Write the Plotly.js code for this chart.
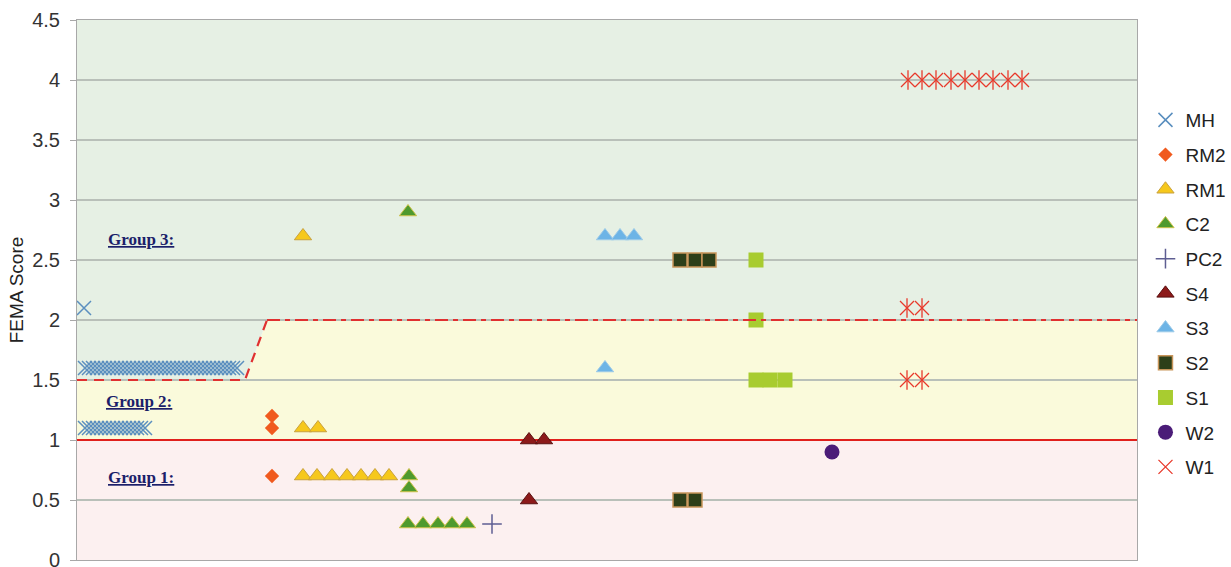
<!DOCTYPE html>
<html>
<head>
<meta charset="utf-8">
<script src="https://cdn.plot.ly/plotly-3.0.1.min.js"></script>
<style>html,body{margin:0;padding:0;background:#fff;}#chart{width:1231px;height:567px;}</style>
</head>
<body>
<div id="chart"></div>
<script>
// ---- Data (x = horizontal position in chart units, y = FEMA score) ----
const mhX = [0.7,
  0.8,1.2,1.6,2.0,2.4,2.8,3.2,3.6,4.0,4.4,4.8,5.2,5.6,6.0,6.4,6.8,7.2,7.6,8.0,8.4,8.8,9.2,9.6,10.0,10.4,10.8,11.2,11.6,12.0,12.4,12.8,13.2,13.6,14.0,14.4,14.8,15.2,15.6,16.0,
  0.8,1.2,1.6,2.0,2.4,2.8,3.2,3.6,4.0,4.4,4.8,5.2,5.6,6.0,6.4,6.8];
const mhY = [2.1,
  1.6,1.6,1.6,1.6,1.6,1.6,1.6,1.6,1.6,1.6,1.6,1.6,1.6,1.6,1.6,1.6,1.6,1.6,1.6,1.6,1.6,1.6,1.6,1.6,1.6,1.6,1.6,1.6,1.6,1.6,1.6,1.6,1.6,1.6,1.6,1.6,1.6,1.6,1.6,
  1.1,1.1,1.1,1.1,1.1,1.1,1.1,1.1,1.1,1.1,1.1,1.1,1.1,1.1,1.1,1.1];
const rm2X = [19.5, 19.5, 19.5];
const rm2Y = [1.2, 1.1, 0.7];
const rm1X = [22.6, 22.6, 24.1, 22.6, 24.0, 25.5, 27.0, 28.4, 29.8, 31.2];
const rm1Y = [2.7, 1.1, 1.1, 0.7, 0.7, 0.7, 0.7, 0.7, 0.7, 0.7];
const c2X = [33.1, 33.2, 33.2, 33.1, 34.6, 36.1, 37.5, 39.0];
const c2Y = [2.9, 0.7, 0.6, 0.3, 0.3, 0.3, 0.3, 0.3];
const pc2X = [41.5];
const pc2Y = [0.3];
const s4X = [45.2, 46.7, 45.2];
const s4Y = [1.0, 1.0, 0.5];
const s3X = [52.8, 54.3, 55.7, 52.8];
const s3Y = [2.7, 2.7, 2.7, 1.6];
const s2X = [60.3, 61.8, 63.2, 60.3, 61.8];
const s2Y = [2.5, 2.5, 2.5, 0.5, 0.5];
const s1X = [67.9, 67.9, 67.9, 69.3, 70.8];
const s1Y = [2.5, 2.0, 1.5, 1.5, 1.5];
const w2X = [75.5];
const w2Y = [0.9];
const w1X = [83.0, 84.5, 83.0, 84.5, 83.1, 84.5, 85.9, 87.4, 88.8, 90.2, 91.6, 93.1, 94.5];
const w1Y = [2.1, 2.1, 1.5, 1.5, 4.0, 4.0, 4.0, 4.0, 4.0, 4.0, 4.0, 4.0, 4.0];

// group boundaries
const xMax = 106;
const group1Top = 1.0;
const boundLeftX = [0, 16.8, 19.0];
const boundLeftY = [1.5, 1.5, 2.0];
const boundRightX = [19.0, 106];
const boundRightY = [2.0, 2.0];
const groupLabels = ["Group 3:", "Group 2:", "Group 1:"];
const groupLabelX = [6.4, 6.2, 6.4];
const groupLabelY = [2.675, 1.32, 0.69];

const traces = [];
// solid red group-1 limit line
traces.push({x:[0, xMax], y:[group1Top, group1Top], mode:'lines', line:{color:'#e0201c', width:2}, showlegend:false, hoverinfo:'skip'});

function pts(name, x, y, marker) {
  return {name:name, x:x, y:y, mode:'markers', type:'scatter', marker:marker, legendgroup:name, cliponaxis:false};
}
traces.push(pts('MH', mhX, mhY, {symbol:'x-thin', size:14, line:{color:'#5b8fbf', width:1.5}}));
traces.push(pts('RM2', rm2X, rm2Y, {symbol:'diamond', size:11, color:'#f05a1e', line:{width:0}}));
traces.push(pts('RM1', rm1X, rm1Y, {symbol:'triangle-up', size:15, color:'#f6c81c', line:{color:'#c9a13c', width:1}}));
traces.push(pts('C2', c2X, c2Y, {symbol:'triangle-up', size:15, color:'#4f9a2e', line:{color:'#cfc24a', width:1}}));
traces.push(pts('PC2', pc2X, pc2Y, {symbol:'cross-thin', size:14, line:{color:'#5e5e92', width:1.5}}));
traces.push(pts('S4', s4X, s4Y, {symbol:'triangle-up', size:15, color:'#8c1a1a', line:{color:'#5a1010', width:1}}));
traces.push(pts('S3', s3X, s3Y, {symbol:'triangle-up', size:15, color:'#6db4e6', line:{color:'#9ccae8', width:1}}));
traces.push(pts('S2', s2X, s2Y, {symbol:'square', size:14, color:'#2d3f19', line:{color:'#c8955a', width:1.5}}));
traces.push(pts('S1', s1X, s1Y, {symbol:'square', size:15, color:'#a8cc30', line:{width:0}}));
traces.push(pts('W2', w2X, w2Y, {symbol:'circle', size:15, color:'#4b1c78', line:{width:0}}));
traces.push(pts('W1', w1X, w1Y, {symbol:'x-thin', size:14, line:{color:'#e8392b', width:1.3}}));
traces.push({x:w1X, y:w1Y, mode:'markers', marker:{symbol:'line-ns', size:14, line:{color:'#e8392b', width:1.3}}, showlegend:false, legendgroup:'W1', hoverinfo:'skip'});

// dashed group boundary
traces.push({x:boundLeftX, y:boundLeftY, mode:'lines', line:{color:'#e03030', width:2.2, dash:'10px,7px'}, showlegend:false, hoverinfo:'skip'});
traces.push({x:boundRightX, y:boundRightY, mode:'lines', line:{color:'#e03030', width:2.2, dash:'13px,5px,5px,5px'}, showlegend:false, hoverinfo:'skip'});

// background zones
function pathFrom(xs, ys) {
  return xs.map((v, i) => (i === 0 ? 'M ' : ' L ') + v + ' ' + ys[i]).join('');
}
const bandX = boundLeftX.concat(boundRightX.slice(1));
const bandY = boundLeftY.concat(boundRightY.slice(1));
const zone2Path = pathFrom([0].concat(bandX, [xMax]), [group1Top].concat(bandY, [group1Top])) + ' Z';
const zone3Path = pathFrom([0].concat(bandX, [xMax]), [4.5].concat(bandY, [4.5])) + ' Z';

const shapes = [
  {type:'rect', xref:'x', yref:'y', x0:0, x1:xMax, y0:0, y1:group1Top, fillcolor:'#fcf0f0', line:{width:0}, layer:'below'},
  {type:'path', xref:'x', yref:'y', path:zone2Path, fillcolor:'#fafadb', line:{width:0}, layer:'below'},
  {type:'path', xref:'x', yref:'y', path:zone3Path, fillcolor:'#e6f0e4', line:{width:0}, layer:'below'}
];

const annotations = groupLabels.map((t, i) => ({
  x: groupLabelX[i], y: groupLabelY[i], xref:'x', yref:'y', text:'<b>' + t + '</b>', showarrow:false,
  font:{family:'Liberation Serif, Times New Roman, serif', size:17, color:'#1c1f6a', lineposition:'under'}
}));

const layout = {
  width:1231, height:567,
  margin:{l:77, r:94, t:20, b:7, autoexpand:false},
  paper_bgcolor:'#ffffff', plot_bgcolor:'#ffffff',
  showlegend:true,
  legend:{x:1.008, xanchor:'left', y:0.85, yanchor:'top', font:{family:'Liberation Sans, Arial, sans-serif', size:19, color:'#222'}, tracegroupgap:7, traceorder:'grouped', bgcolor:'rgba(0,0,0,0)', itemwidth:30},
  xaxis:{range:[0, xMax], showgrid:false, zeroline:false, showticklabels:false, ticks:'', showline:true, linecolor:'#a8a8a8', linewidth:1, mirror:true, fixedrange:true},
  yaxis:{range:[0, 4.5], dtick:0.5, tick0:0, showgrid:true, gridcolor:'#b9c0b9', gridwidth:1.5, zeroline:false,
    showline:true, linecolor:'#a8a8a8', linewidth:1, mirror:true, ticks:'outside', ticklen:6, tickcolor:'#a8a8a8',
    ticklabeloverflow:'allow', ticklabelstandoff:6,
    tickfont:{family:'Liberation Sans, Arial, sans-serif', size:20, color:'#333'},
    title:{text:'FEMA Score', font:{family:'Liberation Sans, Arial, sans-serif', size:19, color:'#222'}, standoff:3}},
  shapes:shapes,
  annotations:annotations
};

Plotly.newPlot('chart', traces, layout, {displayModeBar:false, staticPlot:true});
</script>
</body>
</html>
